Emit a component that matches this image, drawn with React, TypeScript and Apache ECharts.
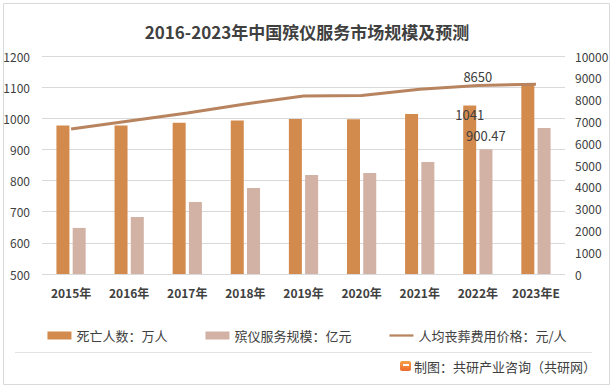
import React, { useEffect, useRef } from "react";
import * as echarts from "echarts";

const categories = ["2015年", "2016年", "2017年", "2018年", "2019年", "2020年", "2021年", "2022年", "2023年E"];
const deaths = [977, 977, 986, 993, 998, 997, 1014, 1041, 1110];
const funeralScale = [648, 683, 731, 776, 818, 824, 860, 900.47, 969];
const avgCost = [6650, 7020, 7390, 7800, 8170, 8190, 8480, 8650, 8700];
const leftTicks = { min: 500, max: 1200, interval: 100 };
const rightTicks = { min: 0, max: 10000, interval: 1000 };
const labelIndex = 7;

const FONT = "'Noto Sans CJK SC', 'Noto Sans', sans-serif";

export default function App() {
  const ref = useRef<HTMLDivElement>(null);
  useEffect(() => {
    document.body.style.margin = "0";
    const chart = echarts.init(ref.current!, undefined, { renderer: "svg" });
    const withLabel = (arr: number[], label: any) =>
      arr.map((v, i) => (i === labelIndex ? { value: v, label } : v));
    chart.setOption({
      animation: false,
      backgroundColor: "#ffffff",
      textStyle: { fontFamily: FONT },
      title: {
        text: "2016-2023年中国殡仪服务市场规模及预测",
        left: "center",
        top: 18,
        textStyle: { fontFamily: FONT, fontSize: 17, fontWeight: "bold", color: "#404040" },
      },
      grid: { left: 42, right: 49, top: 56, bottom: 115 },
      legend: {
        bottom: 42,
        left: "center",
        itemGap: 38,
        itemWidth: 24,
        itemHeight: 8,
        textStyle: { fontFamily: FONT, fontSize: 13, color: "#404040" },
        data: [
          { name: "死亡人数：万人", icon: "rect" },
          { name: "殡仪服务规模：亿元", icon: "rect" },
          { name: "人均丧葬费用价格：元/人", icon: "path://M0,0H32V3H0Z" },
        ],
      },
      xAxis: {
        type: "category",
        data: categories,
        axisLine: { show: false },
        axisTick: { show: false },
        axisLabel: { interval: 0, color: "#404040", fontSize: 12, fontWeight: "bold", margin: 12, fontFamily: FONT },
      },
      yAxis: [
        {
          type: "value",
          ...leftTicks,
          axisLine: { show: false },
          axisTick: { show: false },
          splitLine: { lineStyle: { color: "#d9d9d9", width: 1 } },
          axisLabel: { color: "#404040", fontSize: 12, margin: 12, fontFamily: FONT, formatter: (v: number) => String(v) },
        },
        {
          type: "value",
          ...rightTicks,
          axisLine: { show: false },
          axisTick: { show: false },
          splitLine: { show: false },
          axisLabel: { color: "#404040", fontSize: 12, margin: 10, fontFamily: FONT, formatter: (v: number) => String(v) },
        },
      ],
      series: [
        {
          name: "死亡人数：万人",
          type: "bar",
          yAxisIndex: 0,
          barWidth: 13,
          barGap: "25%",
          itemStyle: { color: "#D38B4D" },
          data: withLabel(deaths, {
            show: true,
            position: "insideTop",
            distance: 2,
            color: "#404040",
            fontSize: 13,
            fontFamily: FONT,
          }),
        },
        {
          name: "殡仪服务规模：亿元",
          type: "bar",
          yAxisIndex: 0,
          barWidth: 13,
          barGap: "25%",
          itemStyle: { color: "#D2B2A5" },
          data: withLabel(funeralScale, {
            show: true,
            position: "top",
            distance: 7,
            color: "#404040",
            fontSize: 13,
            fontFamily: FONT,
          }),
        },
        {
          name: "人均丧葬费用价格：元/人",
          type: "line",
          yAxisIndex: 1,
          symbol: "circle",
          symbolSize: 0,
          showSymbol: true,
          lineStyle: { color: "#B8845F", width: 3 },
          itemStyle: { color: "#B8845F" },
          z: 5,
          labelLayout: { hideOverlap: false },
          data: withLabel(avgCost, {
            show: true,
            position: "top",
            distance: 2,
            color: "#404040",
            fontSize: 13,
            fontFamily: FONT,
          }),
        },
      ],
      graphic: [
        {
          type: "rect",
          shape: { x: 3.5, y: 3.5, width: 606, height: 381 },
          style: { fill: "none", stroke: "#d9d9d9", lineWidth: 1 },
        },
        {
          type: "line",
          shape: { x1: 15, y1: 352.5, x2: 592, y2: 352.5 },
          style: { stroke: "#e3e3e3", lineWidth: 1 },
        },
        {
          type: "rect",
          shape: { x: 400, y: 361, width: 11, height: 10, r: 2 },
          style: {
            fill: new echarts.graphic.LinearGradient(0, 0, 0, 1, [
              { offset: 0, color: "#F5A04A" },
              { offset: 1, color: "#EE6A2E" },
            ]),
          },
        },
        {
          type: "rect",
          shape: { x: 403, y: 364, width: 6, height: 2 },
          style: { fill: "#ffffff" },
        },
        {
          type: "text",
          x: 414,
          y: 366,
          style: {
            text: "制图：共研产业咨询（共研网）",
            fontFamily: FONT,
            fontSize: 13,
            fill: "#404040",
            verticalAlign: "middle",
          },
        },
      ],
    });
    return () => chart.dispose();
  }, []);
  return <div ref={ref} style={{ width: 614, height: 389, position: "absolute", left: 0, top: 0 }} />;
}
